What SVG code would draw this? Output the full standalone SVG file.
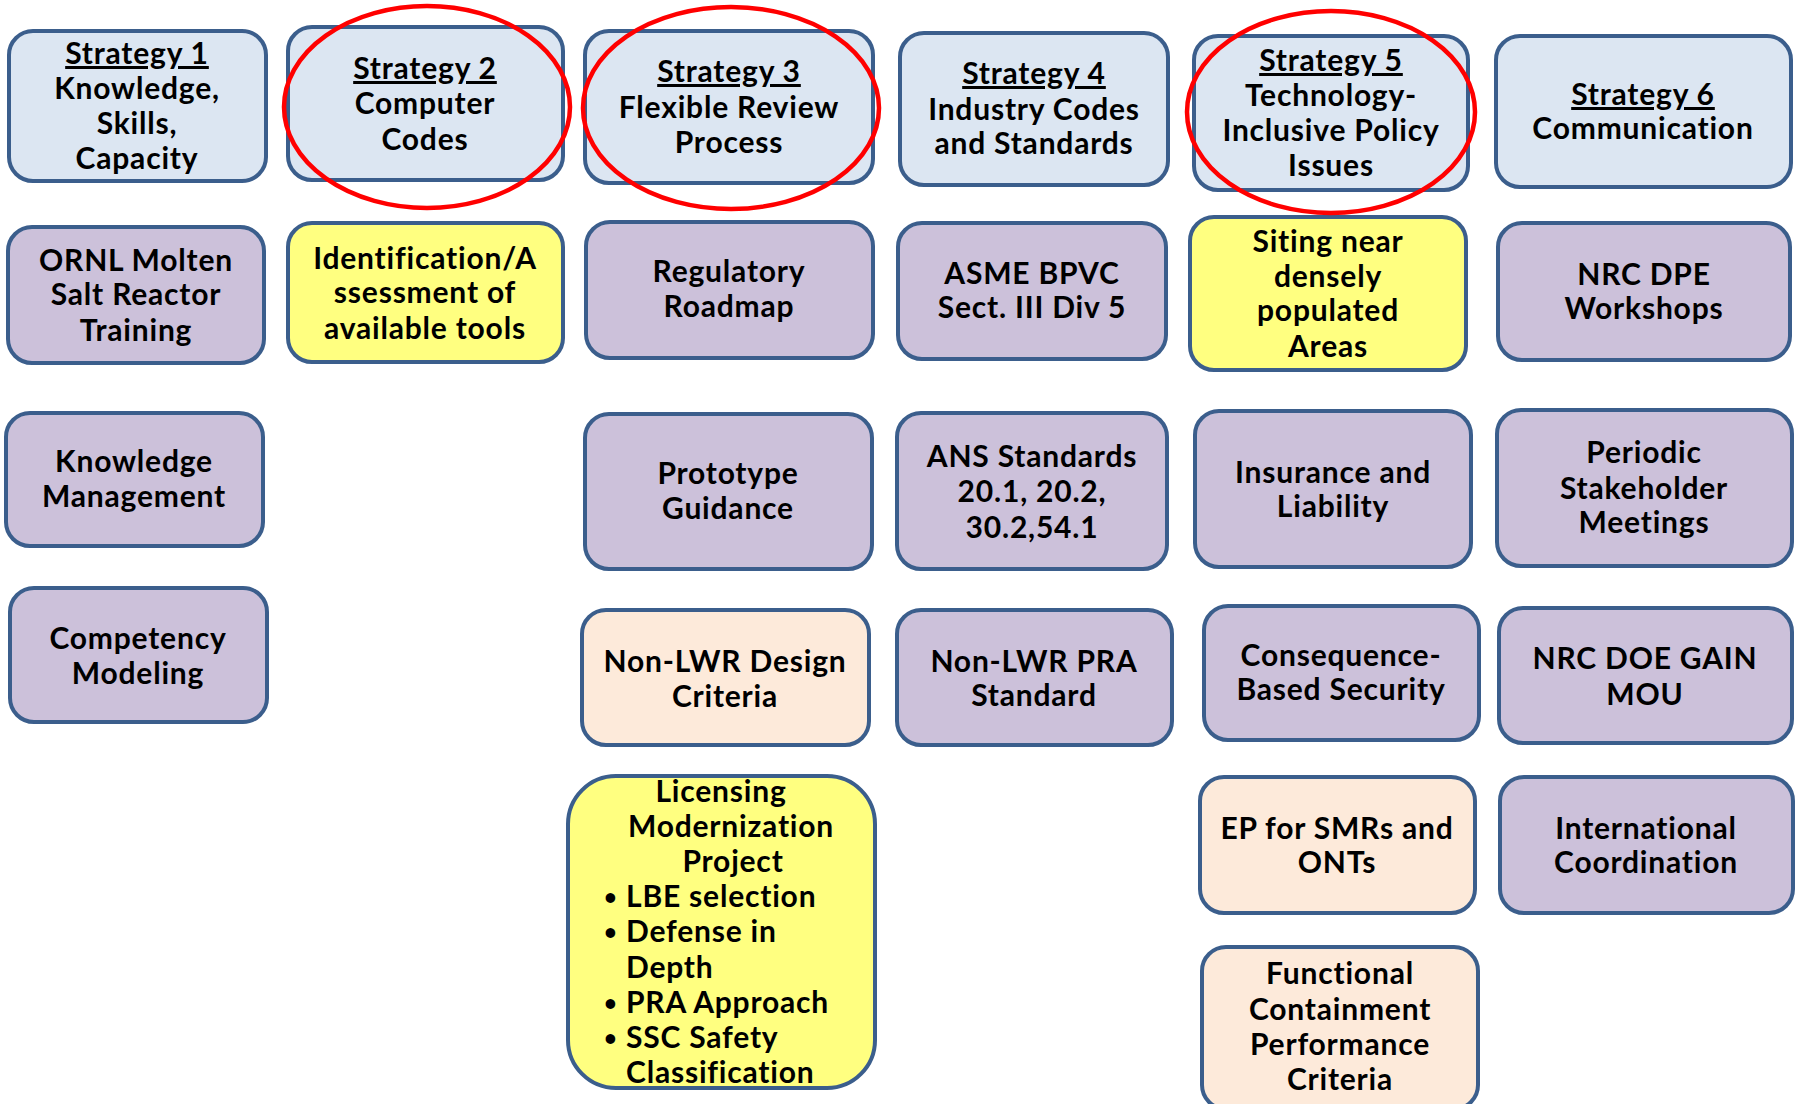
<svg xmlns="http://www.w3.org/2000/svg" width="1795" height="1104" viewBox="0 0 1795 1104">
<style>
.b{stroke:#3B5E8C;stroke-width:4}
.s{fill:#DCE6F2}
.p{fill:#CCC1DA}
.y{fill:#FFFF80}
.o{fill:#FDEADA}
text{font-family:Lato,"Liberation Sans",sans-serif;font-weight:bold;font-size:30px;letter-spacing:0.8px;fill:#000;text-anchor:middle}
.u{text-decoration:underline}
.l{text-anchor:start}
.d{font-size:22px}
.hl{fill:none;stroke:#FF0000;stroke-width:4.5}
</style>
<rect width="1795" height="1104" fill="#FFFFFF"/>
<g id="connectors"/>
<g id="s1"><rect class="b s" x="9" y="31" width="257" height="150" rx="24"/>
<text><tspan class="u" x="137" y="64">Strategy 1</tspan><tspan x="137" y="99">Knowledge,</tspan><tspan x="137" y="134">Skills,</tspan><tspan x="137" y="169">Capacity</tspan></text></g>
<g id="s2"><rect class="b s" x="288" y="27" width="275" height="153" rx="24"/>
<text><tspan class="u" x="425" y="79">Strategy 2</tspan><tspan x="425" y="114">Computer</tspan><tspan x="425" y="150">Codes</tspan></text></g>
<g id="s3"><rect class="b s" x="585" y="31" width="288" height="152" rx="24"/>
<text><tspan class="u" x="729" y="82">Strategy 3</tspan><tspan x="729" y="118">Flexible Review</tspan><tspan x="729" y="153">Process</tspan></text></g>
<g id="s4"><rect class="b s" x="900" y="33" width="268" height="152" rx="24"/>
<text><tspan class="u" x="1034" y="84">Strategy 4</tspan><tspan x="1034" y="120">Industry Codes</tspan><tspan x="1034" y="154">and Standards</tspan></text></g>
<g id="s5"><rect class="b s" x="1194" y="36" width="274" height="154" rx="24"/>
<text><tspan class="u" x="1331" y="71">Strategy 5</tspan><tspan x="1331" y="106">Technology-</tspan><tspan x="1331" y="141">Inclusive Policy</tspan><tspan x="1331" y="176">Issues</tspan></text></g>
<g id="s6"><rect class="b s" x="1496" y="36" width="295" height="151" rx="24"/>
<text><tspan class="u" x="1643" y="105">Strategy 6</tspan><tspan x="1643" y="139">Communication</tspan></text></g>

<g id="ornl"><rect class="b p" x="8" y="227" width="256" height="136" rx="24"/>
<text><tspan x="136" y="271">ORNL Molten</tspan><tspan x="136" y="305">Salt Reactor</tspan><tspan x="136" y="341">Training</tspan></text></g>
<g id="ident"><rect class="b y" x="288" y="223" width="275" height="139" rx="24"/>
<text><tspan x="425" y="269">Identification/A</tspan><tspan x="425" y="303">ssessment of</tspan><tspan x="425" y="339">available tools</tspan></text></g>
<g id="roadmap"><rect class="b p" x="586" y="222" width="287" height="136" rx="24"/>
<text><tspan x="729" y="282">Regulatory</tspan><tspan x="729" y="317">Roadmap</tspan></text></g>
<g id="asme"><rect class="b p" x="898" y="223" width="268" height="136" rx="24"/>
<text><tspan x="1032" y="284">ASME BPVC</tspan><tspan x="1032" y="318">Sect. III Div 5</tspan></text></g>
<g id="siting"><rect class="b y" x="1190" y="217" width="276" height="153" rx="24"/>
<text><tspan x="1328" y="252">Siting near</tspan><tspan x="1328" y="287">densely</tspan><tspan x="1328" y="321">populated</tspan><tspan x="1328" y="357">Areas</tspan></text></g>
<g id="dpe"><rect class="b p" x="1498" y="223" width="292" height="137" rx="24"/>
<text><tspan x="1644" y="285">NRC DPE</tspan><tspan x="1644" y="319">Workshops</tspan></text></g>

<g id="km"><rect class="b p" x="6" y="413" width="257" height="133" rx="24"/>
<text><tspan x="134" y="472">Knowledge</tspan><tspan x="134" y="507">Management</tspan></text></g>
<g id="proto"><rect class="b p" x="585" y="414" width="287" height="155" rx="24"/>
<text><tspan x="728" y="484">Prototype</tspan><tspan x="728" y="519">Guidance</tspan></text></g>
<g id="ans"><rect class="b p" x="897" y="413" width="270" height="156" rx="24"/>
<text><tspan x="1032" y="467">ANS Standards</tspan><tspan x="1032" y="502">20.1, 20.2,</tspan><tspan x="1032" y="538">30.2,54.1</tspan></text></g>
<g id="insurance"><rect class="b p" x="1195" y="411" width="276" height="156" rx="24"/>
<text><tspan x="1333" y="483">Insurance and</tspan><tspan x="1333" y="517">Liability</tspan></text></g>
<g id="periodic"><rect class="b p" x="1497" y="410" width="295" height="156" rx="24"/>
<text><tspan x="1644" y="463">Periodic</tspan><tspan x="1644" y="499">Stakeholder</tspan><tspan x="1644" y="533">Meetings</tspan></text></g>

<g id="competency"><rect class="b p" x="10" y="588" width="257" height="134" rx="24"/>
<text><tspan x="138" y="649">Competency</tspan><tspan x="138" y="684">Modeling</tspan></text></g>
<g id="nonlwr"><rect class="b o" x="582" y="610" width="287" height="135" rx="24"/>
<text><tspan x="725" y="672">Non-LWR Design</tspan><tspan x="725" y="707">Criteria</tspan></text></g>
<g id="pra"><rect class="b p" x="897" y="610" width="275" height="135" rx="24"/>
<text><tspan x="1034" y="672">Non-LWR PRA</tspan><tspan x="1034" y="706">Standard</tspan></text></g>
<g id="cbs"><rect class="b p" x="1204" y="606" width="275" height="134" rx="24"/>
<text><tspan x="1341" y="666">Consequence-</tspan><tspan x="1341" y="700">Based Security</tspan></text></g>
<g id="gain"><rect class="b p" x="1499" y="608" width="293" height="135" rx="24"/>
<text><tspan x="1645" y="669">NRC DOE GAIN</tspan><tspan x="1645" y="705">MOU</tspan></text></g>

<g id="lmp"><rect class="b y" x="568" y="776" width="307" height="312" rx="48"/>
<text><tspan x="721" y="802">Licensing</tspan><tspan x="731" y="837">Modernization</tspan><tspan x="733" y="872">Project</tspan></text>
<text class="l"><tspan class="d" x="604" y="905">•</tspan><tspan x="626" y="907">LBE selection</tspan><tspan class="d" x="604" y="940">•</tspan><tspan x="626" y="942">Defense in</tspan><tspan x="626" y="978">Depth</tspan><tspan class="d" x="604" y="1011">•</tspan><tspan x="626" y="1013">PRA Approach</tspan><tspan class="d" x="604" y="1046">•</tspan><tspan x="626" y="1048">SSC Safety</tspan><tspan x="626" y="1083">Classification</tspan></text></g>
<g id="ep"><rect class="b o" x="1200" y="777" width="275" height="136" rx="24"/>
<text><tspan x="1337" y="839">EP for SMRs and</tspan><tspan x="1337" y="873">ONTs</tspan></text></g>
<g id="intl"><rect class="b p" x="1500" y="777" width="293" height="136" rx="24"/>
<text><tspan x="1646" y="839">International</tspan><tspan x="1646" y="873">Coordination</tspan></text></g>
<g id="fc"><rect class="b o" x="1202" y="947" width="276" height="162" rx="24"/>
<text><tspan x="1340" y="984">Functional</tspan><tspan x="1340" y="1020">Containment</tspan><tspan x="1340" y="1055">Performance</tspan><tspan x="1340" y="1090">Criteria</tspan></text></g>

<g id="highlights">
<ellipse class="hl" cx="427" cy="107" rx="143" ry="101"/>
<ellipse class="hl" cx="731" cy="108" rx="148" ry="101"/>
<ellipse class="hl" cx="1331" cy="112" rx="144" ry="101"/>
</g>
</svg>
